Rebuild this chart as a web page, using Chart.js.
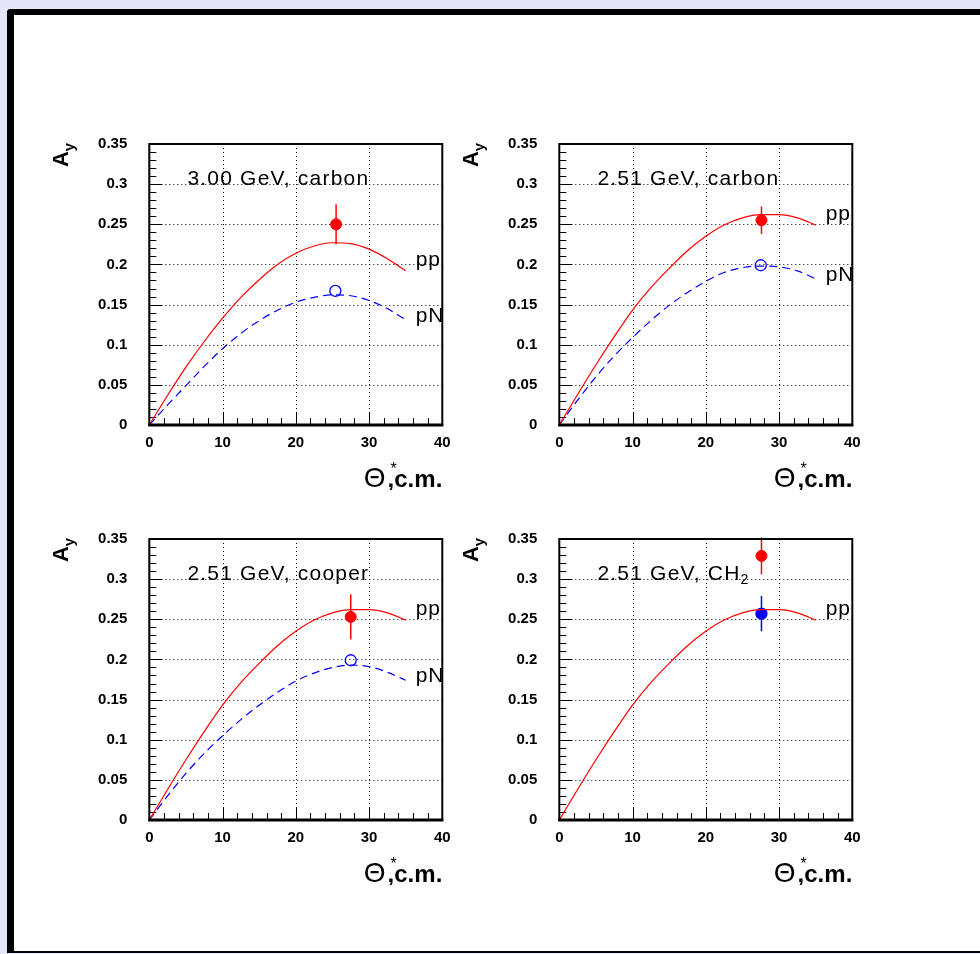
<!DOCTYPE html>
<html lang="en">
<head>
<meta charset="UTF-8">
<title>A_y vs Theta* c.m.</title>
<script src="https://cdn.jsdelivr.net/npm/chart.js@4.4.7/dist/chart.umd.min.js"></script>
<style>
  * { margin: 0; padding: 0; box-sizing: border-box; }
  html, body { width: 980px; height: 954px; overflow: hidden; background: #e6e6fa; }
  .frame {
    position: absolute; left: 7px; top: 9px; width: 1000px; height: 944px;
    background: #fff;
    border-left: 7px solid #000; border-top: 6px solid #000; border-bottom: 2px solid #000;
    border-top-left-radius: 4px;
  }
  canvas.panel { position: absolute; }
</style>
</head>
<body>
<div class="frame"></div>
<canvas class="panel" id="c1" width="460" height="380" style="left:30px;top:110px"></canvas>
<canvas class="panel" id="c2" width="460" height="380" style="left:440px;top:110px"></canvas>
<canvas class="panel" id="c3" width="460" height="380" style="left:30px;top:505px"></canvas>
<canvas class="panel" id="c4" width="460" height="380" style="left:440px;top:505px"></canvas>

<script>
// theory curves
const thetaGrid = [0, 2.5, 5, 7.5, 10, 12.5, 15, 17.5, 20, 22.5, 25, 27.5, 30, 32.5, 35];
const ppC300  = [0, 0.037, 0.072, 0.104, 0.133, 0.159, 0.181, 0.200, 0.214, 0.223, 0.227, 0.226, 0.219, 0.207, 0.192];
const pNC300  = [0, 0.025, 0.049, 0.073, 0.095, 0.114, 0.130, 0.143, 0.153, 0.159, 0.162, 0.161, 0.155, 0.145, 0.131];
const pp251   = [0, 0.038, 0.075, 0.110, 0.143, 0.171, 0.195, 0.217, 0.235, 0.249, 0.258, 0.262, 0.262, 0.258, 0.249];
const pNC251  = [0, 0.031, 0.060, 0.086, 0.109, 0.130, 0.149, 0.165, 0.179, 0.190, 0.196, 0.198, 0.197, 0.192, 0.182];
const pNCu251 = [0, 0.030, 0.058, 0.083, 0.105, 0.125, 0.143, 0.159, 0.173, 0.183, 0.190, 0.193, 0.191, 0.184, 0.174];

// measured points, one per panel
const redTheta  = [25.5, 27.6, 27.5, 27.6];
const redAy     = [0.250, 0.255, 0.253, 0.329];
const redErr    = [0.025, 0.017, 0.028, 0.023];
const blueTheta = [25.4, 27.5, 27.5, 27.6];
const blueAy    = [0.167, 0.199, 0.199, 0.257];
const blueErr   = [0, 0, 0, 0.022];
const blueFilled = [false, false, false, true];

const panelTitles = ['3.00 GeV, carbon', '2.51 GeV, carbon', '2.51 GeV, cooper', '2.51 GeV, CH'];
const titleSubs   = ['', '', '', '2'];

const xTickValues = [0, 10, 20, 30, 40];
const yTickValues = [0, 0.05, 0.1, 0.15, 0.2, 0.25, 0.3, 0.35];

const FONT = "'Liberation Sans', Arial, Helvetica, sans-serif";

function line(ctx, x1, y1, x2, y2) {
  ctx.beginPath(); ctx.moveTo(x1, y1); ctx.lineTo(x2, y2); ctx.stroke();
}

// grid, tick marks, error bars, frame and labels in ROOT style
const decor = {
  id: 'decor',
  beforeDatasetsDraw(chart, args, o) {
    const { ctx, chartArea: a, scales: { x, y } } = chart;
    ctx.save();
    ctx.strokeStyle = '#000';
    ctx.lineWidth = 1;
    ctx.setLineDash([1, 3]);
    xTickValues.slice(1, -1).forEach(v => {
      const px = Math.round(x.getPixelForValue(v)) + 0.5;
      line(ctx, px, a.top, px, a.bottom);
    });
    yTickValues.slice(1, -1).forEach(v => {
      const py = Math.round(y.getPixelForValue(v)) + 0.5;
      line(ctx, a.left, py, a.right, py);
    });
    ctx.setLineDash([]);
    // tick marks: x every 2, y every 0.01
    for (let i = 1; i < 20; i++) {
      const px = Math.round(x.getPixelForValue(i * 2)) + 0.5;
      line(ctx, px, a.bottom, px, a.bottom - (i % 5 === 0 ? 13 : 7));
    }
    for (let i = 1; i < 35; i++) {
      const py = Math.round(y.getPixelForValue(i / 100)) + 0.5;
      line(ctx, a.left, py, a.left + (i % 5 === 0 ? 13 : 7), py);
    }
    // error bars
    ctx.lineWidth = 1.5;
    o.bars.forEach(b => {
      if (!b.err) return;
      const px = x.getPixelForValue(b.x);
      ctx.strokeStyle = b.color;
      line(ctx, px, y.getPixelForValue(b.y - b.err), px, y.getPixelForValue(b.y + b.err));
    });
    ctx.restore();
  },
  afterDatasetsDraw(chart, args, o) {
    const { ctx, chartArea: a, scales: { x, y } } = chart;
    ctx.save();
    // frame
    ctx.strokeStyle = '#000';
    ctx.lineWidth = 2;
    ctx.strokeRect(a.left, a.top, a.right - a.left, a.bottom - a.top);
    ctx.lineWidth = 3;
    line(ctx, a.left - 1, a.bottom, a.right + 1, a.bottom);

    ctx.fillStyle = '#000';
    ctx.textBaseline = 'alphabetic';
    // panel title
    ctx.font = '21px ' + FONT;
    ctx.letterSpacing = '1.2px';
    ctx.textAlign = 'left';
    const tx = x.getPixelForValue(5.2), ty = y.getPixelForValue(0.3) + 1;
    ctx.fillText(o.title, tx, ty);
    if (o.sub) {
      const w = ctx.measureText(o.title).width;
      ctx.font = '14px ' + FONT;
      ctx.fillText(o.sub, tx + w, ty + 4);
    }
    // curve labels
    ctx.font = '21px ' + FONT;
    ctx.letterSpacing = '1px';
    o.curveLabels.forEach(c => {
      ctx.fillText(c.text, x.getPixelForValue(35) + 10, y.getPixelForValue(c.y) + c.dy);
    });
    ctx.letterSpacing = '0px';

    // y title A_y, rotated
    ctx.save();
    ctx.translate(a.left - 81, a.top + 11);
    ctx.rotate(-Math.PI / 2);
    ctx.font = 'bold 22px ' + FONT;
    const wA = ctx.measureText('A').width;
    ctx.font = 'bold 15px ' + FONT;
    const wy = ctx.measureText('y').width;
    const x0 = -(wA + wy) / 2;
    ctx.font = 'bold 22px ' + FONT;
    ctx.fillText('A', x0, 0);
    ctx.font = 'bold 15px ' + FONT;
    ctx.fillText('y', x0 + wA, 6);
    ctx.restore();

    // x title  Θ*,c.m.
    const by = a.bottom + 62;
    ctx.textAlign = 'right';
    ctx.font = 'bold 24px ' + FONT;
    const tail = ',c.m.';
    const wt = ctx.measureText(tail).width;
    ctx.fillText(tail, a.right, by);
    ctx.font = '28px ' + FONT;
    const th = a.right - wt - 2;
    ctx.fillText('\u0398', th, by);
    ctx.font = '16px ' + FONT;
    ctx.textAlign = 'left';
    ctx.fillText('*', th + 5, by - 13);
    ctx.restore();
  }
};

function curve(vals) {
  return thetaGrid.map((t, i) => ({ x: t, y: vals[i] }));
}

function makePanel(id, k, pp, pN) {
  const datasets = [{
    data: curve(pp), borderColor: '#ff0000', borderWidth: 1.2,
    pointRadius: 0, cubicInterpolationMode: 'monotone', fill: false
  }];
  const labels = [{ text: 'pp', y: pp[pp.length - 1], dy: -5 }];
  if (pN) {
    datasets.push({
      data: curve(pN), borderColor: '#0000ff', borderWidth: 1.2, borderDash: [8, 5],
      pointRadius: 0, cubicInterpolationMode: 'monotone', fill: false
    });
    labels.push({ text: 'pN', y: pN[pN.length - 1], dy: 2 });
  }
  const blueCol = '#0000ff';
  datasets.push({
    data: [{ x: blueTheta[k], y: blueAy[k] }], showLine: false,
    pointRadius: 5.5, pointBorderWidth: 1.3, pointBorderColor: blueCol,
    pointBackgroundColor: blueFilled[k] ? blueCol : 'rgba(0,0,0,0)'
  });
  datasets.push({
    data: [{ x: redTheta[k], y: redAy[k] }], showLine: false,
    pointRadius: 5.5, pointBorderWidth: 1, pointBorderColor: '#ff0000',
    pointBackgroundColor: '#ff0000'
  });

  const tickFont = { family: FONT, size: 15, weight: 'bold' };
  new Chart(document.getElementById(id), {
    type: 'line',
    data: { datasets },
    options: {
      responsive: false,
      animation: false,
      layout: { padding: { left: 59.3, right: 47.7, top: 34, bottom: 25 } },
      plugins: {
        legend: { display: false },
        tooltip: { enabled: false },
        decor: {
          title: panelTitles[k], sub: titleSubs[k], curveLabels: labels,
          bars: [
            { x: redTheta[k], y: redAy[k], err: redErr[k], color: '#ff0000' },
            { x: blueTheta[k], y: blueAy[k], err: blueErr[k], color: blueCol }
          ]
        }
      },
      scales: {
        x: {
          type: 'linear', min: 0, max: 40,
          afterFit: s => { s.height = 40; },
          afterBuildTicks: s => { s.ticks = xTickValues.map(v => ({ value: v })); },
          grid: { display: false, drawTicks: false },
          border: { display: false },
          ticks: { font: tickFont, color: '#000', padding: 9, maxRotation: 0, autoSkip: false }
        },
        y: {
          type: 'linear', min: 0, max: 0.35,
          afterFit: s => { s.width = 60; },
          afterBuildTicks: s => { s.ticks = yTickValues.map(v => ({ value: v })); },
          grid: { display: false, drawTicks: false },
          border: { display: false },
          ticks: {
            font: tickFont, color: '#000', padding: 22, autoSkip: false,
            callback: v => String(+(+v).toFixed(2))
          }
        }
      }
    },
    plugins: [decor]
  });
}

makePanel('c1', 0, ppC300, pNC300);
makePanel('c2', 1, pp251, pNC251);
makePanel('c3', 2, pp251, pNCu251);
makePanel('c4', 3, pp251, null);
</script>
</body>
</html>
